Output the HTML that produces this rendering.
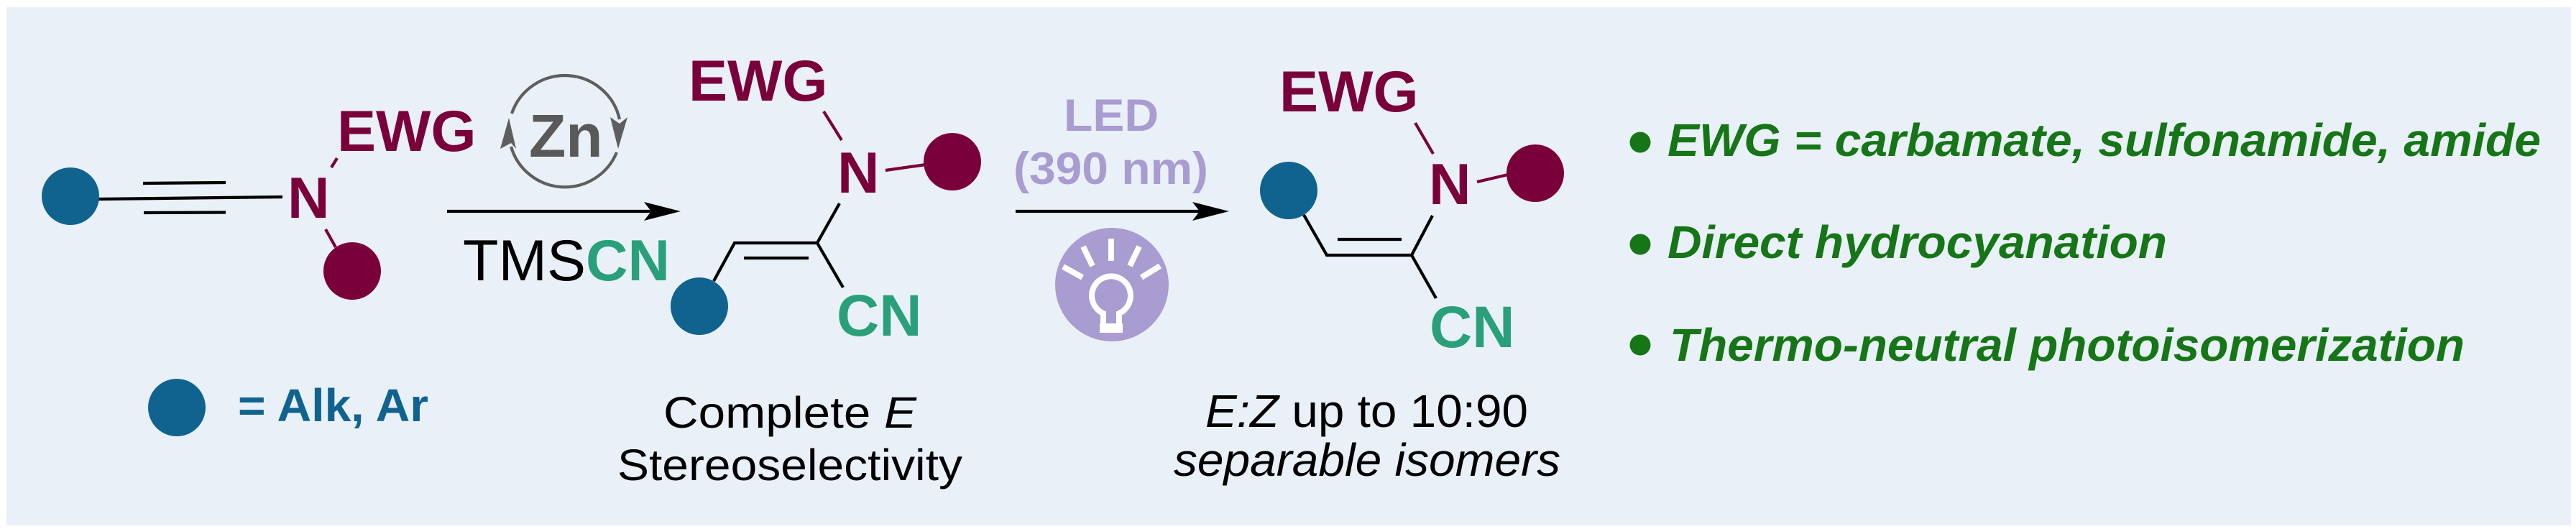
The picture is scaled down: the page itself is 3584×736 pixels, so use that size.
<!DOCTYPE html>
<html>
<head>
<meta charset="utf-8">
<style>
  html, body { margin: 0; padding: 0; background: #ffffff; }
  svg { display: block; }
  text { font-family: "Liberation Sans", Arial, sans-serif; }
</style>
</head>
<body>
<svg width="3584" height="736" viewBox="0 0 3584 736" xmlns="http://www.w3.org/2000/svg">
  <rect x="0" y="0" width="3584" height="736" fill="#ffffff"/>
  <rect x="9" y="10" width="3568" height="721" fill="#e9f0f7"/>

  <!-- ===== Left molecule (ynamide) ===== -->
  <g stroke="#000" stroke-width="4.2" fill="none">
    <line x1="136" y1="277" x2="393" y2="274"/>
    <line x1="199" y1="255" x2="314" y2="254"/>
    <line x1="200" y1="296" x2="314" y2="295.5"/>
  </g>
  <g stroke="#7a003c" stroke-width="4.2">
    <line x1="461" y1="233" x2="469" y2="220"/>
    <line x1="453" y1="319" x2="467" y2="344"/>
  </g>
  <circle cx="98" cy="273" r="40" fill="#10638f"/>
  <circle cx="490" cy="377" r="40" fill="#7a003c"/>
  <text x="400" y="303" font-size="81" font-weight="bold" fill="#7a003c">N</text>
  <text x="469" y="210" font-size="81" font-weight="bold" fill="#7a003c">EWG</text>

  <!-- legend -->
  <circle cx="246" cy="567" r="40" fill="#10638f"/>
  <text x="331" y="586" font-size="64" font-weight="bold" fill="#10638f" textLength="265" lengthAdjust="spacingAndGlyphs">= Alk, Ar</text>

  <!-- ===== Zn cycle ===== -->
  <g stroke="#5e5e5e" stroke-width="4.2" fill="none">
    <path d="M712,158 A78,78 0 0 1 862,166"/>
    <path d="M858,212 A78,78 0 0 1 711,204"/>
  </g>
  <path d="M849,163 L862,172 L873,163 L860,207 Z" fill="#5e5e5e"/>
  <path d="M696,207 L711,199 L718,207 L708,164 Z" fill="#5e5e5e"/>
  <text x="736" y="218" font-size="84" font-weight="bold" fill="#595959">Zn</text>

  <!-- Arrow 1 -->
  <line x1="622" y1="294" x2="910" y2="294" stroke="#000" stroke-width="4.2"/>
  <path d="M947,294 L896,281 L906,294 L896,307 Z" fill="#000"/>
  <text x="644" y="390" font-size="81" fill="#000">TMS<tspan font-weight="bold" fill="#29a07a">CN</tspan></text>

  <!-- ===== Middle molecule (E) ===== -->
  <g stroke="#7a003c" stroke-width="4.2">
    <line x1="1146" y1="155" x2="1171" y2="195"/>
    <line x1="1232" y1="237" x2="1288" y2="229"/>
  </g>
  <g stroke="#000" stroke-width="4.2" fill="none" stroke-linejoin="miter">
    <polyline points="1168,283 1137,338 1022,338 993,391"/>
    <line x1="1137" y1="338" x2="1173" y2="400"/>
    <line x1="1035" y1="359" x2="1125" y2="359"/>
  </g>
  <circle cx="1325" cy="225" r="40" fill="#7a003c"/>
  <circle cx="973" cy="426" r="40" fill="#10638f"/>
  <text x="958" y="140" font-size="81" font-weight="bold" fill="#7a003c">EWG</text>
  <text x="1165" y="268" font-size="81" font-weight="bold" fill="#7a003c">N</text>
  <text x="1164" y="467" font-size="82" font-weight="bold" fill="#29a07a">CN</text>

  <text x="923" y="595" font-size="61" fill="#000" textLength="352" lengthAdjust="spacingAndGlyphs">Complete <tspan font-style="italic">E</tspan></text>
  <text x="859" y="668" font-size="61" fill="#000" textLength="480" lengthAdjust="spacingAndGlyphs">Stereoselectivity</text>

  <!-- ===== LED / Arrow 2 ===== -->
  <text x="1480" y="182" font-size="63" font-weight="bold" fill="#a99cd0" textLength="132" lengthAdjust="spacingAndGlyphs">LED</text>
  <text x="1410" y="256" font-size="63" font-weight="bold" fill="#a99cd0" textLength="271" lengthAdjust="spacingAndGlyphs">(390 nm)</text>
  <line x1="1413" y1="294" x2="1672" y2="294" stroke="#000" stroke-width="4.2"/>
  <path d="M1710,294 L1659,281 L1669,294 L1659,307 Z" fill="#000"/>

  <!-- bulb -->
  <circle cx="1547" cy="396" r="79" fill="#a99cd0"/>
  <g stroke="#ffffff" stroke-width="8" fill="none">
    <line x1="1546" y1="332" x2="1546" y2="363"/>
    <line x1="1507" y1="343" x2="1520" y2="370"/>
    <line x1="1585" y1="343" x2="1572" y2="370"/>
    <line x1="1479" y1="371" x2="1506" y2="386"/>
    <line x1="1614" y1="370" x2="1588" y2="386"/>
    <path d="M1535,452 L1535,436 A27,27 0 1 1 1557,436 L1557,452"/>
  </g>
  <rect x="1530" y="450" width="32" height="13" fill="#ffffff"/>

  <!-- ===== Right molecule (Z) ===== -->
  <g stroke="#7a003c" stroke-width="4.2">
    <line x1="1994" y1="214" x2="1969" y2="171"/>
    <line x1="2055" y1="253" x2="2098" y2="243"/>
  </g>
  <g stroke="#000" stroke-width="4.2" fill="none" stroke-linejoin="miter">
    <polyline points="1814,299 1846,355 1964,355 1993,300"/>
    <line x1="1964" y1="355" x2="1998" y2="415"/>
    <line x1="1861" y1="333" x2="1950" y2="333"/>
  </g>
  <circle cx="1793" cy="265" r="40" fill="#10638f"/>
  <circle cx="2136" cy="241" r="40" fill="#7a003c"/>
  <text x="1780" y="155" font-size="81" font-weight="bold" fill="#7a003c">EWG</text>
  <text x="1988" y="284" font-size="81" font-weight="bold" fill="#7a003c">N</text>
  <text x="1989" y="483" font-size="82" font-weight="bold" fill="#29a07a">CN</text>

  <text x="1677" y="594" font-size="64" fill="#000" textLength="449" lengthAdjust="spacingAndGlyphs"><tspan font-style="italic">E:Z</tspan> up to 10:90</text>
  <text x="1633" y="662" font-size="64" font-style="italic" fill="#000" textLength="538" lengthAdjust="spacingAndGlyphs">separable isomers</text>

  <!-- ===== Bullets ===== -->
  <circle cx="2282" cy="198" r="14.5" fill="#167516"/>
  <circle cx="2282" cy="340" r="14.5" fill="#167516"/>
  <circle cx="2282" cy="480" r="14.5" fill="#167516"/>
  <g font-size="64" font-weight="bold" font-style="italic" fill="#167516">
    <text x="2320" y="217" textLength="1215" lengthAdjust="spacingAndGlyphs">EWG = carbamate, sulfonamide, amide</text>
    <text x="2320" y="359" textLength="695" lengthAdjust="spacingAndGlyphs">Direct hydrocyanation</text>
    <text x="2323" y="502" textLength="1106" lengthAdjust="spacingAndGlyphs">Thermo-neutral photoisomerization</text>
  </g>
</svg>
</body>
</html>
